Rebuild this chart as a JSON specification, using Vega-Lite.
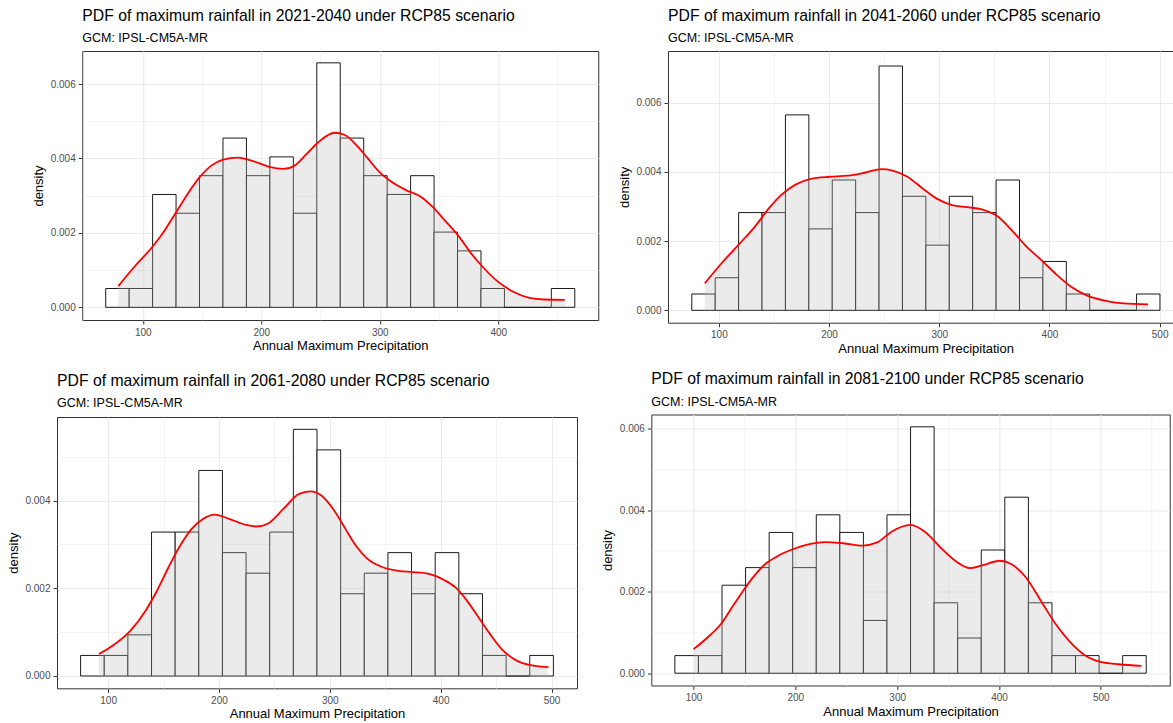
{
  "$schema": "https://vega.github.io/schema/vega-lite/v6.json",
  "padding": {"left": -1, "top": 7, "right": 0, "bottom": 0},
  "background": "white",
  "datasets": {
    "bars1": [
      {"x0": 68.7, "x1": 88.49, "d": 0.000505}, {"x0": 88.49, "x1": 108.28, "d": 0.000505},
      {"x0": 108.28, "x1": 128.07, "d": 0.003032}, {"x0": 128.07, "x1": 147.86, "d": 0.002527},
      {"x0": 147.86, "x1": 167.65, "d": 0.003537}, {"x0": 167.65, "x1": 187.44, "d": 0.004548},
      {"x0": 187.44, "x1": 207.23, "d": 0.003537}, {"x0": 207.23, "x1": 227.02, "d": 0.004042},
      {"x0": 227.02, "x1": 246.81, "d": 0.002527}, {"x0": 246.81, "x1": 266.6, "d": 0.006569},
      {"x0": 266.6, "x1": 286.39, "d": 0.004548}, {"x0": 286.39, "x1": 306.18, "d": 0.003537},
      {"x0": 306.18, "x1": 325.97, "d": 0.003032}, {"x0": 325.97, "x1": 345.76, "d": 0.003537},
      {"x0": 345.76, "x1": 365.55, "d": 0.002021}, {"x0": 365.55, "x1": 385.34, "d": 0.001516},
      {"x0": 385.34, "x1": 405.13, "d": 0.000505}, {"x0": 405.13, "x1": 424.92, "d": 0},
      {"x0": 424.92, "x1": 444.71, "d": 0}, {"x0": 444.71, "x1": 464.5, "d": 0.000505}
    ],
    "bars2": [
      {"x0": 75.4, "x1": 96.65, "d": 0.000471}, {"x0": 96.65, "x1": 117.89, "d": 0.000941},
      {"x0": 117.89, "x1": 139.14, "d": 0.002824}, {"x0": 139.14, "x1": 160.38, "d": 0.002824},
      {"x0": 160.38, "x1": 181.63, "d": 0.005648}, {"x0": 181.63, "x1": 202.87, "d": 0.002353},
      {"x0": 202.87, "x1": 224.12, "d": 0.003766}, {"x0": 224.12, "x1": 245.36, "d": 0.002824},
      {"x0": 245.36, "x1": 266.61, "d": 0.00706}, {"x0": 266.61, "x1": 287.85, "d": 0.003295},
      {"x0": 287.85, "x1": 309.1, "d": 0.001883}, {"x0": 309.1, "x1": 330.34, "d": 0.003295},
      {"x0": 330.34, "x1": 351.59, "d": 0.002824}, {"x0": 351.59, "x1": 372.83, "d": 0.003766},
      {"x0": 372.83, "x1": 394.08, "d": 0.000941}, {"x0": 394.08, "x1": 415.32, "d": 0.001412},
      {"x0": 415.32, "x1": 436.57, "d": 0.000471}, {"x0": 436.57, "x1": 457.81, "d": 0},
      {"x0": 457.81, "x1": 479.06, "d": 0}, {"x0": 479.06, "x1": 500.3, "d": 0.000471}
    ],
    "bars3": [
      {"x0": 75.2, "x1": 96.53, "d": 0.000469}, {"x0": 96.53, "x1": 117.85, "d": 0.000469},
      {"x0": 117.85, "x1": 139.18, "d": 0.000938}, {"x0": 139.18, "x1": 160.5, "d": 0.003283},
      {"x0": 160.5, "x1": 181.83, "d": 0.003283}, {"x0": 181.83, "x1": 203.15, "d": 0.004689},
      {"x0": 203.15, "x1": 224.48, "d": 0.002814}, {"x0": 224.48, "x1": 245.8, "d": 0.002345},
      {"x0": 245.8, "x1": 267.13, "d": 0.003283}, {"x0": 267.13, "x1": 288.45, "d": 0.005627},
      {"x0": 288.45, "x1": 309.78, "d": 0.005158}, {"x0": 309.78, "x1": 331.1, "d": 0.001876},
      {"x0": 331.1, "x1": 352.43, "d": 0.002345}, {"x0": 352.43, "x1": 373.75, "d": 0.002814},
      {"x0": 373.75, "x1": 395.08, "d": 0.001876}, {"x0": 395.08, "x1": 416.4, "d": 0.002814},
      {"x0": 416.4, "x1": 437.73, "d": 0.001876}, {"x0": 437.73, "x1": 459.05, "d": 0.000469},
      {"x0": 459.05, "x1": 480.38, "d": 0}, {"x0": 480.38, "x1": 501.7, "d": 0.000469}
    ],
    "bars4": [
      {"x0": 81.7, "x1": 104.85, "d": 0.000432}, {"x0": 104.85, "x1": 127.99, "d": 0.000432},
      {"x0": 127.99, "x1": 151.14, "d": 0.00216}, {"x0": 151.14, "x1": 174.28, "d": 0.002592},
      {"x0": 174.28, "x1": 197.43, "d": 0.003456}, {"x0": 197.43, "x1": 220.57, "d": 0.002592},
      {"x0": 220.57, "x1": 243.72, "d": 0.003889}, {"x0": 243.72, "x1": 266.86, "d": 0.003456},
      {"x0": 266.86, "x1": 290.01, "d": 0.001296}, {"x0": 290.01, "x1": 313.15, "d": 0.003889},
      {"x0": 313.15, "x1": 336.3, "d": 0.006049}, {"x0": 336.3, "x1": 359.44, "d": 0.001728},
      {"x0": 359.44, "x1": 382.59, "d": 0.000864}, {"x0": 382.59, "x1": 405.73, "d": 0.003024},
      {"x0": 405.73, "x1": 428.88, "d": 0.004321}, {"x0": 428.88, "x1": 452.02, "d": 0.001728},
      {"x0": 452.02, "x1": 475.17, "d": 0.000432}, {"x0": 475.17, "x1": 498.31, "d": 0.000432},
      {"x0": 498.31, "x1": 521.46, "d": 0}, {"x0": 521.46, "x1": 544.6, "d": 0.000432}
    ],
    "dens1": [
      {"x": 79.3, "y": 0.00057}, {"x": 92.9, "y": 0.00109}, {"x": 109, "y": 0.00166}, {"x": 118.7, "y": 0.00208},
      {"x": 128.4, "y": 0.00257}, {"x": 138.1, "y": 0.00306}, {"x": 147.8, "y": 0.00349}, {"x": 157.5, "y": 0.0038},
      {"x": 167.2, "y": 0.00396}, {"x": 180, "y": 0.00402}, {"x": 193, "y": 0.00393}, {"x": 205.9, "y": 0.00378},
      {"x": 218.8, "y": 0.00372}, {"x": 228.5, "y": 0.00382}, {"x": 238.2, "y": 0.00412}, {"x": 247.9, "y": 0.00443},
      {"x": 261.8, "y": 0.00469}, {"x": 270.5, "y": 0.00463}, {"x": 280.2, "y": 0.00436}, {"x": 289.9, "y": 0.004},
      {"x": 299.5, "y": 0.00364}, {"x": 309.2, "y": 0.00339}, {"x": 322.1, "y": 0.00315}, {"x": 335.1, "y": 0.00296},
      {"x": 344.8, "y": 0.00269}, {"x": 354.4, "y": 0.00235}, {"x": 367.3, "y": 0.00188}, {"x": 377, "y": 0.00145},
      {"x": 386.7, "y": 0.00109}, {"x": 399.6, "y": 0.00069}, {"x": 412.6, "y": 0.00042}, {"x": 425.5, "y": 0.00026},
      {"x": 438.4, "y": 0.00021}, {"x": 456.1, "y": 0.0002}
    ],
    "dens2": [
      {"x": 87.2, "y": 0.00078}, {"x": 102.4, "y": 0.00136}, {"x": 119.2, "y": 0.00194}, {"x": 132.7, "y": 0.00242},
      {"x": 146.2, "y": 0.00298}, {"x": 156.4, "y": 0.00333}, {"x": 169.9, "y": 0.00364}, {"x": 183.4, "y": 0.0038},
      {"x": 200.3, "y": 0.00386}, {"x": 217.1, "y": 0.00389}, {"x": 234, "y": 0.00399}, {"x": 247.5, "y": 0.00408},
      {"x": 257.6, "y": 0.00404}, {"x": 271.1, "y": 0.00386}, {"x": 284.6, "y": 0.00353}, {"x": 298.1, "y": 0.00322},
      {"x": 311.6, "y": 0.00304}, {"x": 325.1, "y": 0.00298}, {"x": 338.6, "y": 0.00292}, {"x": 352.2, "y": 0.00273},
      {"x": 365.7, "y": 0.00232}, {"x": 379.2, "y": 0.00184}, {"x": 392.7, "y": 0.00145}, {"x": 406.2, "y": 0.00104},
      {"x": 419.7, "y": 0.00068}, {"x": 433.2, "y": 0.00044}, {"x": 450.1, "y": 0.00028}, {"x": 467, "y": 0.0002},
      {"x": 489.5, "y": 0.00017}
    ],
    "dens3": [
      {"x": 91.7, "y": 0.0005}, {"x": 106.2, "y": 0.00073}, {"x": 120, "y": 0.00103}, {"x": 133.8, "y": 0.00149},
      {"x": 144.2, "y": 0.00195}, {"x": 154.5, "y": 0.00248}, {"x": 164.9, "y": 0.00297}, {"x": 175.2, "y": 0.00335},
      {"x": 185.5, "y": 0.00358}, {"x": 195.9, "y": 0.00368}, {"x": 209.7, "y": 0.00358}, {"x": 223.6, "y": 0.00345},
      {"x": 233.9, "y": 0.00341}, {"x": 244.3, "y": 0.00348}, {"x": 258.1, "y": 0.00381}, {"x": 271.9, "y": 0.00415},
      {"x": 282.2, "y": 0.00421}, {"x": 292.6, "y": 0.00411}, {"x": 303, "y": 0.00381}, {"x": 313.3, "y": 0.00339},
      {"x": 323.6, "y": 0.00297}, {"x": 334, "y": 0.00267}, {"x": 347.8, "y": 0.00248}, {"x": 361.6, "y": 0.0024},
      {"x": 375.4, "y": 0.00237}, {"x": 389.2, "y": 0.00233}, {"x": 403, "y": 0.00219}, {"x": 413.4, "y": 0.00202},
      {"x": 423.7, "y": 0.00172}, {"x": 434.1, "y": 0.00134}, {"x": 444.4, "y": 0.00096}, {"x": 454.8, "y": 0.00062},
      {"x": 468.6, "y": 0.00035}, {"x": 482.4, "y": 0.00024}, {"x": 497.2, "y": 0.0002}
    ],
    "dens4": [
      {"x": 100, "y": 0.00059}, {"x": 112.1, "y": 0.00084}, {"x": 126.7, "y": 0.0012}, {"x": 137.7, "y": 0.00161},
      {"x": 148.6, "y": 0.00202}, {"x": 159.6, "y": 0.00239}, {"x": 170.6, "y": 0.00268}, {"x": 181.5, "y": 0.00286},
      {"x": 196.2, "y": 0.00303}, {"x": 210.8, "y": 0.00315}, {"x": 229.1, "y": 0.00322}, {"x": 247.3, "y": 0.00319},
      {"x": 265.6, "y": 0.00313}, {"x": 280.3, "y": 0.00321}, {"x": 294.9, "y": 0.00348}, {"x": 313.2, "y": 0.00364},
      {"x": 327.8, "y": 0.00346}, {"x": 342.4, "y": 0.00309}, {"x": 357, "y": 0.00276}, {"x": 371.7, "y": 0.00258},
      {"x": 382.6, "y": 0.00264}, {"x": 400.9, "y": 0.00276}, {"x": 411.9, "y": 0.00268}, {"x": 426.5, "y": 0.00235},
      {"x": 441.1, "y": 0.00178}, {"x": 455.8, "y": 0.0012}, {"x": 470.4, "y": 0.00075}, {"x": 485, "y": 0.00043},
      {"x": 499.6, "y": 0.00028}, {"x": 517.9, "y": 0.00022}, {"x": 539.9, "y": 0.00018}
    ]
  },
  "config": {
    "font": "Liberation Sans",
    "view": {"stroke": "#333333", "strokeWidth": 1},
    "axis": {
      "domain": false, "tickColor": "#333333", "tickSize": 4, "tickWidth": 1,
      "labelColor": "#4D4D4D", "labelFontSize": 10, "labelPadding": 3, "labelFont": "Liberation Sans",
      "titleFontSize": 13, "titleFontWeight": "normal", "titleColor": "#000000", "titleFont": "Liberation Sans",
      "gridColor": "#EBEBEB", "labelOverlap": false, "labelFlush": false, "titlePadding": 2.5
    },
    "title": {
      "anchor": "start", "frame": "group", "fontSize": 15.75, "fontWeight": "normal", "color": "#000000",
      "font": "Liberation Sans", "subtitleFont": "Liberation Sans", "subtitleFontSize": 12.5,
      "subtitleColor": "#000000", "subtitlePadding": 7.5
    }
  },
  "spacing": -24.1,
  "hconcat": [
    {
      "spacing": 19,
      "center": true,
      "vconcat": [
        {
          "width": 516, "height": 269,
          "title": {"text": "PDF of maximum rainfall in 2021-2040 under RCP85 scenario", "subtitle": "GCM: IPSL-CM5A-MR", "offset": 5.5},
          "layer": [
            {
              "data": {"name": "bars1"},
              "mark": {"type": "rect", "fill": "white", "stroke": "black", "strokeWidth": 0.9},
              "encoding": {
                "x": {"field": "x0", "type": "quantitative", "title": "Annual Maximum Precipitation",
                  "scale": {"domain": [48.9, 484.3], "nice": false, "zero": false},
                  "axis": {"values": [50, 100, 150, 200, 250, 300, 350, 400, 450], "grid": true,
                    "gridWidth": {"condition": {"test": "datum.value % 100 === 0", "value": 1.1}, "value": 0.6},
                    "tickOpacity": {"condition": {"test": "datum.value % 100 === 0", "value": 1}, "value": 0},
                    "labelExpr": "datum.value % 100 === 0 ? datum.label : ''"}},
                "x2": {"field": "x1"},
                "y": {"field": "d", "type": "quantitative", "title": "density",
                  "scale": {"domain": [-0.000341, 0.006887], "nice": false, "zero": false},
                  "axis": {"values": [0, 0.001, 0.002, 0.003, 0.004, 0.005, 0.006], "format": ".3f", "grid": true,
                    "gridWidth": {"condition": {"test": "round(datum.value*1000) % 2 === 0", "value": 1.1}, "value": 0.6},
                    "tickOpacity": {"condition": {"test": "round(datum.value*1000) % 2 === 0", "value": 1}, "value": 0},
                    "labelExpr": "round(datum.value*1000) % 2 === 0 ? datum.label : ''",
                    "minExtent": 50, "titleX": -37, "titleY": 134.5}},
                "y2": {"datum": 0}
              }
            },
            {
              "data": {"name": "dens1"},
              "mark": {"type": "area", "fill": "#BEBEBE", "opacity": 0.3, "interpolate": "monotone"},
              "encoding": {
                "x": {"field": "x", "type": "quantitative", "title": "Annual Maximum Precipitation"},
                "y": {"field": "y", "type": "quantitative", "title": "density"},
                "y2": {"datum": 0}
              }
            },
            {
              "data": {"name": "dens1"},
              "mark": {"type": "line", "color": "#FF0000", "strokeWidth": 1.8, "interpolate": "monotone"},
              "encoding": {
                "x": {"field": "x", "type": "quantitative", "title": "Annual Maximum Precipitation"},
                "y": {"field": "y", "type": "quantitative", "title": "density"}
              }
            }
          ]
        },
        {
          "width": 520, "height": 271.3,
          "title": {"text": "PDF of maximum rainfall in 2061-2080 under RCP85 scenario", "subtitle": "GCM: IPSL-CM5A-MR", "offset": 6.5},
          "resolve": {"axis": {"y": "independent"}},
          "layer": [
            {
              "data": {"name": "bars3"},
              "mark": {"type": "rect", "fill": "white", "stroke": "black", "strokeWidth": 0.9},
              "encoding": {
                "x": {"field": "x0", "type": "quantitative", "title": "Annual Maximum Precipitation",
                  "scale": {"domain": [53.9, 523.0], "nice": false, "zero": false},
                  "axis": {"values": [100, 150, 200, 250, 300, 350, 400, 450, 500], "grid": true,
                    "gridWidth": {"condition": {"test": "datum.value % 100 === 0", "value": 1.1}, "value": 0.6},
                    "tickOpacity": {"condition": {"test": "datum.value % 100 === 0", "value": 1}, "value": 0},
                    "labelExpr": "datum.value % 100 === 0 ? datum.label : ''"}},
                "x2": {"field": "x1"},
                "y": {"field": "d", "type": "quantitative", "title": "density",
                  "scale": {"domain": [-0.000281, 0.005908], "nice": false, "zero": false},
                  "axis": {"orient": "left", "values": [0, 0.001, 0.002, 0.003, 0.004, 0.005], "format": ".3f", "grid": true,
                    "gridWidth": {"condition": {"test": "round(datum.value*1000) % 2 === 0", "value": 1.1}, "value": 0.6},
                    "tickOpacity": {"condition": {"test": "round(datum.value*1000) % 2 === 0", "value": 1}, "value": 0},
                    "labelExpr": "round(datum.value*1000) % 2 === 0 ? datum.label : ''",
                    "minExtent": 57, "titleX": -37, "titleY": 135.6}},
                "y2": {"datum": 0}
              }
            },
            {
              "data": {"name": "dens3"},
              "mark": {"type": "area", "fill": "#BEBEBE", "opacity": 0.3, "interpolate": "monotone"},
              "encoding": {
                "x": {"field": "x", "type": "quantitative", "title": "Annual Maximum Precipitation"},
                "y": {"field": "y", "type": "quantitative", "title": "density", "axis": null},
                "y2": {"datum": 0}
              }
            },
            {
              "data": {"name": "dens3"},
              "mark": {"type": "line", "color": "#FF0000", "strokeWidth": 1.8, "interpolate": "monotone"},
              "encoding": {
                "x": {"field": "x", "type": "quantitative", "title": "Annual Maximum Precipitation"},
                "y": {"field": "y", "type": "quantitative",
                  "axis": {"orient": "right", "title": null, "labels": false, "ticks": false, "domain": false, "grid": false,
                    "minExtent": 46.5, "maxExtent": 46.5}}
              }
            }
          ]
        }
      ]
    },
    {
      "spacing": 14.5,
      "center": true,
      "vconcat": [
        {
          "width": 515.3, "height": 271.7,
          "title": {"text": "PDF of maximum rainfall in 2041-2060 under RCP85 scenario", "subtitle": "GCM: IPSL-CM5A-MR", "offset": 5.5},
          "layer": [
            {
              "data": {"name": "bars2"},
              "mark": {"type": "rect", "fill": "white", "stroke": "black", "strokeWidth": 0.9},
              "encoding": {
                "x": {"field": "x0", "type": "quantitative", "title": "Annual Maximum Precipitation",
                  "scale": {"domain": [53.8, 521.5], "nice": false, "zero": false},
                  "axis": {"values": [100, 150, 200, 250, 300, 350, 400, 450, 500], "grid": true,
                    "gridWidth": {"condition": {"test": "datum.value % 100 === 0", "value": 1.1}, "value": 0.6},
                    "tickOpacity": {"condition": {"test": "datum.value % 100 === 0", "value": 1}, "value": 0},
                    "labelExpr": "datum.value % 100 === 0 ? datum.label : ''"}},
                "x2": {"field": "x1"},
                "y": {"field": "d", "type": "quantitative", "title": "density",
                  "scale": {"domain": [-0.000358, 0.007494], "nice": false, "zero": false},
                  "axis": {"values": [0, 0.001, 0.002, 0.003, 0.004, 0.005, 0.006, 0.007], "format": ".3f", "grid": true,
                    "gridWidth": {"condition": {"test": "round(datum.value*1000) % 2 === 0", "value": 1.1}, "value": 0.6},
                    "tickOpacity": {"condition": {"test": "round(datum.value*1000) % 2 === 0", "value": 1}, "value": 0},
                    "labelExpr": "round(datum.value*1000) % 2 === 0 ? datum.label : ''",
                    "minExtent": 50, "titleX": -37, "titleY": 135.8}},
                "y2": {"datum": 0}
              }
            },
            {
              "data": {"name": "dens2"},
              "mark": {"type": "area", "fill": "#BEBEBE", "opacity": 0.3, "interpolate": "monotone"},
              "encoding": {
                "x": {"field": "x", "type": "quantitative", "title": "Annual Maximum Precipitation"},
                "y": {"field": "y", "type": "quantitative", "title": "density"},
                "y2": {"datum": 0}
              }
            },
            {
              "data": {"name": "dens2"},
              "mark": {"type": "line", "color": "#FF0000", "strokeWidth": 1.8, "interpolate": "monotone"},
              "encoding": {
                "x": {"field": "x", "type": "quantitative", "title": "Annual Maximum Precipitation"},
                "y": {"field": "y", "type": "quantitative", "title": "density"}
              }
            }
          ]
        },
        {
          "width": 518.4, "height": 271,
          "title": {"text": "PDF of maximum rainfall in 2081-2100 under RCP85 scenario", "subtitle": "GCM: IPSL-CM5A-MR", "offset": 5.5},
          "resolve": {"axis": {"y": "independent"}},
          "layer": [
            {
              "data": {"name": "bars4"},
              "mark": {"type": "rect", "fill": "white", "stroke": "black", "strokeWidth": 0.9},
              "encoding": {
                "x": {"field": "x0", "type": "quantitative", "title": "Annual Maximum Precipitation",
                  "scale": {"domain": [58.6, 567.7], "nice": false, "zero": false},
                  "axis": {"values": [100, 150, 200, 250, 300, 350, 400, 450, 500, 550], "grid": true,
                    "gridWidth": {"condition": {"test": "datum.value % 100 === 0", "value": 1.1}, "value": 0.6},
                    "tickOpacity": {"condition": {"test": "datum.value % 100 === 0", "value": 1}, "value": 0},
                    "labelExpr": "datum.value % 100 === 0 ? datum.label : ''"}},
                "x2": {"field": "x1"},
                "y": {"field": "d", "type": "quantitative", "title": "density",
                  "scale": {"domain": [-0.000302, 0.006351], "nice": false, "zero": false},
                  "axis": {"orient": "left", "values": [0, 0.001, 0.002, 0.003, 0.004, 0.005, 0.006], "format": ".3f", "grid": true,
                    "gridWidth": {"condition": {"test": "round(datum.value*1000) % 2 === 0", "value": 1.1}, "value": 0.6},
                    "tickOpacity": {"condition": {"test": "round(datum.value*1000) % 2 === 0", "value": 1}, "value": 0},
                    "labelExpr": "round(datum.value*1000) % 2 === 0 ? datum.label : ''",
                    "minExtent": 50, "titleX": -37, "titleY": 135.5}},
                "y2": {"datum": 0}
              }
            },
            {
              "data": {"name": "dens4"},
              "mark": {"type": "area", "fill": "#BEBEBE", "opacity": 0.3, "interpolate": "monotone"},
              "encoding": {
                "x": {"field": "x", "type": "quantitative", "title": "Annual Maximum Precipitation"},
                "y": {"field": "y", "type": "quantitative", "title": "density", "axis": null},
                "y2": {"datum": 0}
              }
            },
            {
              "data": {"name": "dens4"},
              "mark": {"type": "line", "color": "#FF0000", "strokeWidth": 1.8, "interpolate": "monotone"},
              "encoding": {
                "x": {"field": "x", "type": "quantitative", "title": "Annual Maximum Precipitation"},
                "y": {"field": "y", "type": "quantitative",
                  "axis": {"orient": "right", "title": null, "labels": false, "ticks": false, "domain": false, "grid": false,
                    "minExtent": 30.2, "maxExtent": 30.2}}
              }
            }
          ]
        }
      ]
    }
  ]
}
